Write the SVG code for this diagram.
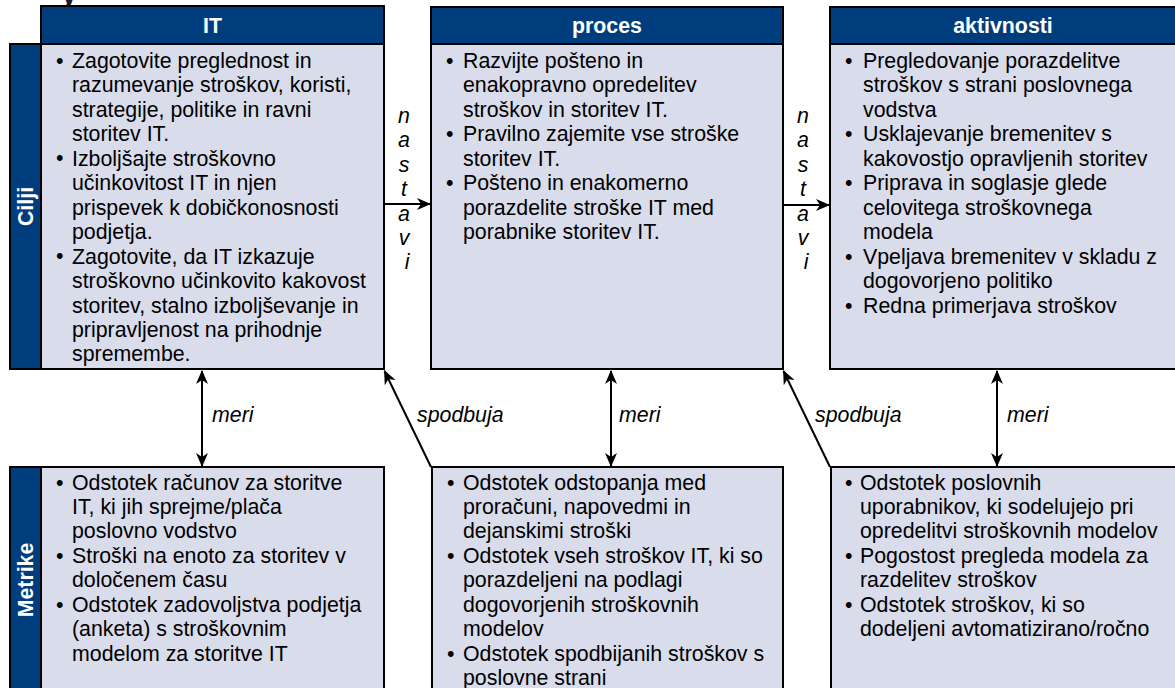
<svg xmlns="http://www.w3.org/2000/svg" width="1175" height="688" viewBox="0 0 1175 688">
  <defs>
    <marker id="arr" viewBox="0 0 14 12" refX="13" refY="6" markerWidth="14" markerHeight="12" markerUnits="userSpaceOnUse" orient="auto-start-reverse">
      <path d="M0,0 L14,6 L0,12 L4,6 Z" fill="#000"/>
    </marker>
  </defs>
  <style>
    .hdr { fill: #003d7d; stroke: #000; stroke-width: 2; }
    .side { fill: #003d7d; stroke: #000; stroke-width: 2; }
    .body { fill: #d9dcea; stroke: #000; stroke-width: 2; }
    .ht { font-family: "Liberation Sans", Arial, sans-serif; font-size: 21.33px; font-weight: bold; fill: #fff; text-anchor: middle; }
    .st { font-family: "Liberation Sans", Arial, sans-serif; font-size: 21.33px; font-weight: bold; fill: #fff; text-anchor: middle; }
    .tx { font-family: "Liberation Sans", Arial, sans-serif; font-size: 21.33px; fill: #000; }
    .lab { font-family: "Liberation Sans", Arial, sans-serif; font-size: 21.33px; font-style: italic; fill: #000; }
    .vl { font-family: "Liberation Sans", Arial, sans-serif; font-size: 21.33px; font-style: italic; fill: #000; text-anchor: middle; }
    .cn { fill: none; stroke: #000; stroke-width: 2; }
    .title { font-family: "Liberation Sans", Arial, sans-serif; font-size: 32px; font-weight: bold; fill: #1a1a2e; }
  </style>

  <rect width="1175" height="688" fill="#fff"/>

  <!-- title, mostly above the page edge -->
  <text class="title" x="60" y="3">y</text>

  <!-- top row: goals -->
  <g id="cilji-it">
    <rect class="side" x="10" y="44" width="31" height="325"/>
    <text class="st" transform="translate(33,206.5) rotate(-90)">Cilji</text>
    <rect class="body" x="41" y="44" width="343" height="325"/>
    <rect class="hdr" x="41" y="6" width="343" height="38"/>
    <text class="ht" x="212.5" y="33">IT</text>
    <text class="tx" x="56" y="68">•</text>
    <text class="tx" x="56" y="165">•</text>
    <text class="tx" x="56" y="263">•</text>
    <text class="tx" y="68">
      <tspan x="72">Zagotovite preglednost in</tspan>
      <tspan x="72" dy="24.45">razumevanje stroškov, koristi,</tspan>
      <tspan x="72" dy="24.45">strategije, politike in ravni</tspan>
      <tspan x="72" dy="24.45">storitev IT.</tspan>
      <tspan x="72" dy="24.45">Izboljšajte stroškovno</tspan>
      <tspan x="72" dy="24.45">učinkovitost IT in njen</tspan>
      <tspan x="72" dy="24.45">prispevek k dobičkonosnosti</tspan>
      <tspan x="72" dy="24.45">podjetja.</tspan>
      <tspan x="72" dy="24.45">Zagotovite, da IT izkazuje</tspan>
      <tspan x="72" dy="24.45">stroškovno učinkovito kakovost</tspan>
      <tspan x="72" dy="24.45">storitev, stalno izboljševanje in</tspan>
      <tspan x="72" dy="24.45">pripravljenost na prihodnje</tspan>
      <tspan x="72" dy="24.45">spremembe.</tspan>
    </text>
  </g>

  <g id="cilji-proces">
    <rect class="body" x="431" y="44" width="352" height="325"/>
    <rect class="hdr" x="431" y="7" width="352" height="37"/>
    <text class="ht" x="607" y="33">proces</text>
    <text class="tx" x="446" y="68">•</text>
    <text class="tx" x="446" y="141.3">•</text>
    <text class="tx" x="446" y="190.2">•</text>
    <text class="tx" y="68">
      <tspan x="463">Razvijte pošteno in</tspan>
      <tspan x="463" dy="24.45">enakopravno opredelitev</tspan>
      <tspan x="463" dy="24.45">stroškov in storitev IT.</tspan>
      <tspan x="463" dy="24.45">Pravilno zajemite vse stroške</tspan>
      <tspan x="463" dy="24.45">storitev IT.</tspan>
      <tspan x="463" dy="24.45">Pošteno in enakomerno</tspan>
      <tspan x="463" dy="24.45">porazdelite stroške IT med</tspan>
      <tspan x="463" dy="24.45">porabnike storitev IT.</tspan>
    </text>
  </g>

  <g id="cilji-aktivnosti">
    <rect class="body" x="830" y="44" width="360" height="325"/>
    <rect class="hdr" x="830" y="7" width="360" height="37"/>
    <text class="ht" x="1003" y="33">aktivnosti</text>
    <text class="tx" x="845" y="68">•</text>
    <text class="tx" x="845" y="141.3">•</text>
    <text class="tx" x="845" y="190.2">•</text>
    <text class="tx" x="845" y="263.6">•</text>
    <text class="tx" x="845" y="312.5">•</text>
    <text class="tx" y="68">
      <tspan x="863">Pregledovanje porazdelitve</tspan>
      <tspan x="863" dy="24.45">stroškov s strani poslovnega</tspan>
      <tspan x="863" dy="24.45">vodstva</tspan>
      <tspan x="863" dy="24.45">Usklajevanje bremenitev s</tspan>
      <tspan x="863" dy="24.45">kakovostjo opravljenih storitev</tspan>
      <tspan x="863" dy="24.45">Priprava in soglasje glede</tspan>
      <tspan x="863" dy="24.45">celovitega stroškovnega</tspan>
      <tspan x="863" dy="24.45">modela</tspan>
      <tspan x="863" dy="24.45">Vpeljava bremenitev v skladu z</tspan>
      <tspan x="863" dy="24.45">dogovorjeno politiko</tspan>
      <tspan x="863" dy="24.45">Redna primerjava stroškov</tspan>
    </text>
  </g>

  <!-- bottom row: metrics -->
  <g id="metrike-it">
    <rect class="side" x="10" y="467" width="31" height="226"/>
    <text class="st" transform="translate(33,580) rotate(-90)">Metrike</text>
    <rect class="body" x="41" y="467" width="343" height="226"/>
    <text class="tx" x="56" y="489.5">•</text>
    <text class="tx" x="56" y="562.8">•</text>
    <text class="tx" x="56" y="611.7">•</text>
    <text class="tx" y="489.5">
      <tspan x="72">Odstotek računov za storitve</tspan>
      <tspan x="72" dy="24.45">IT, ki jih sprejme/plača</tspan>
      <tspan x="72" dy="24.45">poslovno vodstvo</tspan>
      <tspan x="72" dy="24.45">Stroški na enoto za storitev v</tspan>
      <tspan x="72" dy="24.45">določenem času</tspan>
      <tspan x="72" dy="24.45">Odstotek zadovoljstva podjetja</tspan>
      <tspan x="72" dy="24.45">(anketa) s stroškovnim</tspan>
      <tspan x="72" dy="24.45">modelom za storitve IT</tspan>
    </text>
  </g>

  <g id="metrike-proces">
    <rect class="body" x="432" y="467" width="351" height="226"/>
    <text class="tx" x="447" y="489.5">•</text>
    <text class="tx" x="447" y="562.8">•</text>
    <text class="tx" x="447" y="660.5">•</text>
    <text class="tx" y="489.5">
      <tspan x="463">Odstotek odstopanja med</tspan>
      <tspan x="463" dy="24.45">proračuni, napovedmi in</tspan>
      <tspan x="463" dy="24.45">dejanskimi stroški</tspan>
      <tspan x="463" dy="24.45">Odstotek vseh stroškov IT, ki so</tspan>
      <tspan x="463" dy="24.45">porazdeljeni na podlagi</tspan>
      <tspan x="463" dy="24.45">dogovorjenih stroškovnih</tspan>
      <tspan x="463" dy="24.45">modelov</tspan>
      <tspan x="463" dy="24.45">Odstotek spodbijanih stroškov s</tspan>
      <tspan x="463" dy="24.45">poslovne strani</tspan>
    </text>
  </g>

  <g id="metrike-aktivnosti">
    <rect class="body" x="831" y="467" width="360" height="226"/>
    <text class="tx" x="845" y="489.5">•</text>
    <text class="tx" x="845" y="562.8">•</text>
    <text class="tx" x="845" y="611.7">•</text>
    <text class="tx" y="489.5">
      <tspan x="860">Odstotek poslovnih</tspan>
      <tspan x="860" dy="24.45">uporabnikov, ki sodelujejo pri</tspan>
      <tspan x="860" dy="24.45">opredelitvi stroškovnih modelov</tspan>
      <tspan x="860" dy="24.45">Pogostost pregleda modela za</tspan>
      <tspan x="860" dy="24.45">razdelitev stroškov</tspan>
      <tspan x="860" dy="24.45">Odstotek stroškov, ki so</tspan>
      <tspan x="860" dy="24.45">dodeljeni avtomatizirano/ročno</tspan>
    </text>
  </g>

  <!-- connectors -->
  <g id="connectors">
    <line class="cn" x1="384" y1="204" x2="430" y2="204" marker-end="url(#arr)"/>
    <line class="cn" x1="783" y1="205" x2="829" y2="205" marker-end="url(#arr)"/>
    <line class="cn" x1="202" y1="371" x2="202" y2="466" marker-start="url(#arr)" marker-end="url(#arr)"/>
    <line class="cn" x1="611" y1="371" x2="611" y2="466" marker-start="url(#arr)" marker-end="url(#arr)"/>
    <line class="cn" x1="997" y1="371" x2="997" y2="466" marker-start="url(#arr)" marker-end="url(#arr)"/>
    <line class="cn" x1="431" y1="467" x2="384.5" y2="371" marker-end="url(#arr)"/>
    <line class="cn" x1="830" y1="467" x2="783.5" y2="371" marker-end="url(#arr)"/>
    <text class="vl">
      <tspan x="407" y="123">n</tspan>
      <tspan x="407" y="147.4">a</tspan>
      <tspan x="407" y="171.8">s</tspan>
      <tspan x="407" y="196.2">t</tspan>
      <tspan x="407" y="220.6">a</tspan>
      <tspan x="407" y="245">v</tspan>
      <tspan x="407" y="269.4">i</tspan>
    </text>
    <text class="vl">
      <tspan x="806" y="123">n</tspan>
      <tspan x="806" y="147.4">a</tspan>
      <tspan x="806" y="171.8">s</tspan>
      <tspan x="806" y="196.2">t</tspan>
      <tspan x="806" y="220.6">a</tspan>
      <tspan x="806" y="245">v</tspan>
      <tspan x="806" y="269.4">i</tspan>
    </text>
    <text class="lab" x="212" y="422">meri</text>
    <text class="lab" x="619" y="422">meri</text>
    <text class="lab" x="1007" y="422">meri</text>
    <text class="lab" x="417" y="422">spodbuja</text>
    <text class="lab" x="815" y="422">spodbuja</text>
  </g>
</svg>
